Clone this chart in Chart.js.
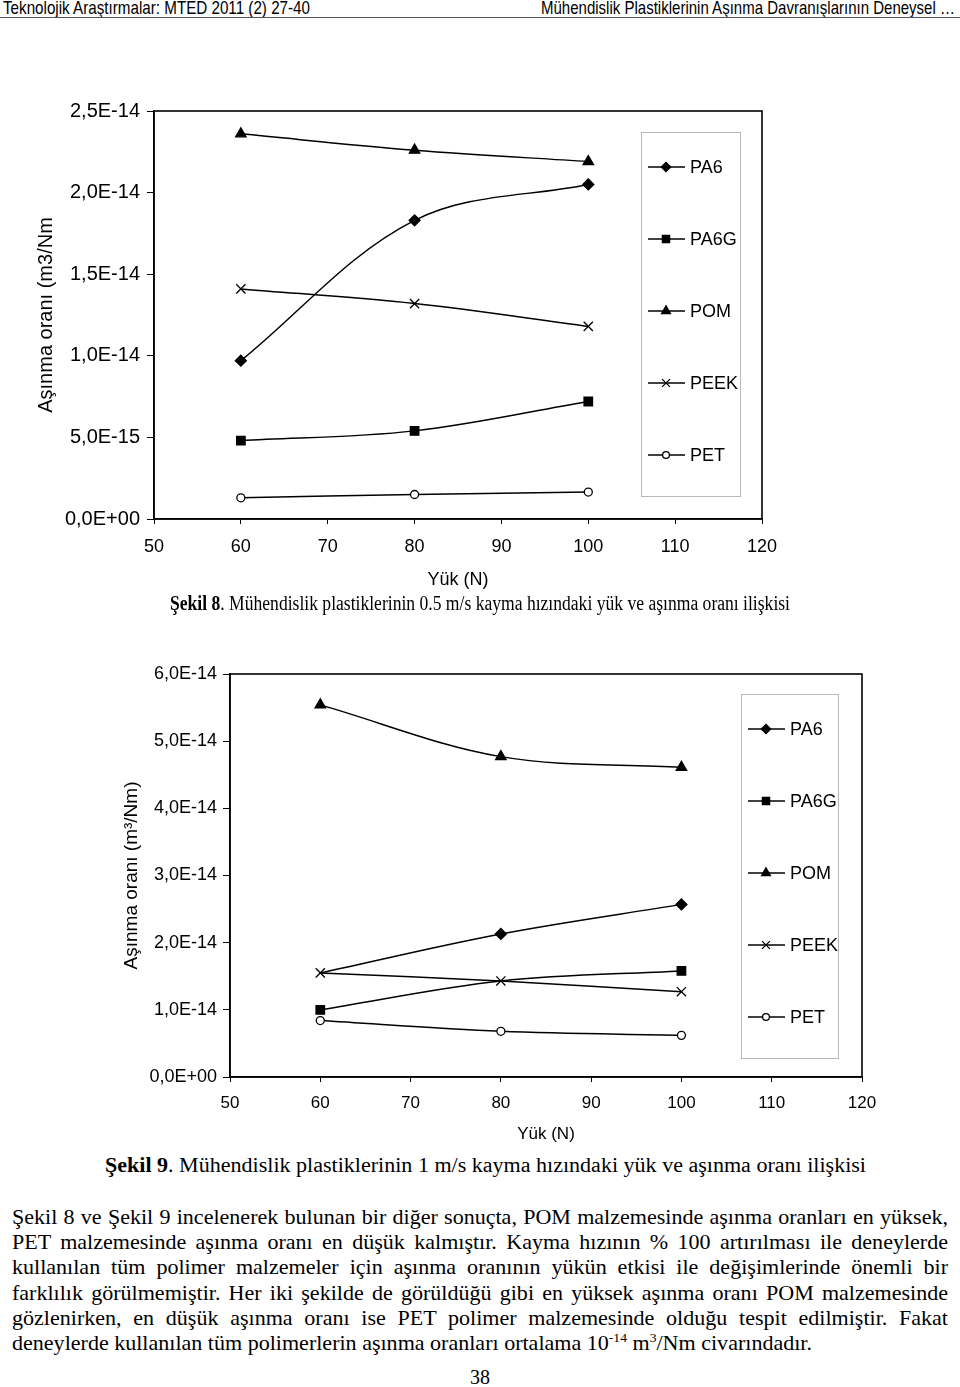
<!DOCTYPE html>
<html lang="tr">
<head>
<meta charset="utf-8">
<title>Şekil 8 ve Şekil 9 - yük ve aşınma oranı</title>
<script src="https://cdn.jsdelivr.net/npm/chart.js@4.4.1/dist/chart.umd.min.js"></script>
<style>
  html, body { margin: 0; padding: 0; background: #fff; }
  body { width: 960px; height: 1387px; position: relative; overflow: hidden; color: #000; }
  .abs { position: absolute; white-space: nowrap; }
  .hdr { font-family: "Liberation Sans Narrow", "Arial Narrow", "Liberation Sans", sans-serif; font-size: 19px; line-height: 19px; top: -2px; }
  #hdrLine { position: absolute; left: 0; top: 17px; width: 960px; height: 1px; background: #555; }
  .serif { font-family: "Liberation Serif", "Times New Roman", serif; font-size: 20px; line-height: 24px; }
  .para { position: absolute; left: 12px; top: 1205px; font-family: "Liberation Serif", "Times New Roman", serif; font-size: 21px; transform-origin: left top; }
  .para div { height: 25.2px; line-height: 25.2px; white-space: nowrap; }
  .para span { display: inline-block; }
  .para sup { font-size: 13px; line-height: 0; vertical-align: 8px; }
  canvas { position: absolute; left: 0; }
</style>
</head>
<body>

<div class="abs hdr fit" data-w="307" style="left:3px;">Teknolojik Araştırmalar: MTED 2011 (2) 27-40</div>
<div class="abs hdr fit" data-w="414" style="left:541px;">Mühendislik Plastiklerinin Aşınma Davranışlarının Deneysel …</div>
<div id="hdrLine"></div>

<canvas id="sekil8" width="800" height="510" style="top:90px;"></canvas>
<div class="abs serif fit" data-w="620" style="left:170px; top:591px;"><b>Şekil 8</b>. Mühendislik plastiklerinin 0.5 m/s kayma hızındaki yük ve aşınma oranı ilişkisi</div>

<canvas id="sekil9" width="900" height="500" style="top:650px;"></canvas>
<div class="abs serif fit" data-w="761" style="left:105px; top:1153px;"><b>Şekil 9</b>. Mühendislik plastiklerinin 1 m/s kayma hızındaki yük ve aşınma oranı ilişkisi</div>

<div class="para" id="para">
  <div><span class="jl">Şekil 8 ve Şekil 9 incelenerek bulunan bir diğer sonuçta, POM malzemesinde aşınma oranları en yüksek,</span></div>
  <div><span class="jl">PET malzemesinde aşınma oranı en düşük kalmıştır. Kayma hızının % 100 artırılması ile deneylerde</span></div>
  <div><span class="jl">kullanılan tüm polimer malzemeler için aşınma oranının yükün etkisi ile değişimlerinde önemli bir</span></div>
  <div><span class="jl">farklılık görülmemiştir. Her iki şekilde de görüldüğü gibi en yüksek aşınma oranı POM malzemesinde</span></div>
  <div><span class="jl">gözlenirken, en düşük aşınma oranı ise PET polimer malzemesinde olduğu tespit edilmiştir. Fakat</span></div>
  <div><span id="lastLine">deneylerde kullanılan tüm polimerlerin aşınma oranları ortalama 10<sup>-14</sup> m<sup>3</sup>/Nm civarındadır.</span></div>
</div>

<div class="abs serif" style="left:0; width:960px; text-align:center; top:1365px;">38</div>

<script>
// yük değerleri (N)
const loads = [60, 80, 100];
const seriesNames = ['PA6', 'PA6G', 'POM', 'PEEK', 'PET'];

// Şekil 8 - 0.5 m/s kayma hızı
const pa6_05  = [0.97e-14, 1.83e-14, 2.05e-14];
const pa6g_05 = [0.48e-14, 0.54e-14, 0.72e-14];
const pom_05  = [2.36e-14, 2.26e-14, 2.19e-14];
const peek_05 = [1.41e-14, 1.32e-14, 1.18e-14];
const pet_05  = [0.13e-14, 0.15e-14, 0.165e-14];

// Şekil 9 - 1 m/s kayma hızı
const pa6_1  = [1.55e-14, 2.13e-14, 2.57e-14];
const pa6g_1 = [1.00e-14, 1.43e-14, 1.58e-14];
const pom_1  = [5.54e-14, 4.77e-14, 4.61e-14];
const peek_1 = [1.55e-14, 1.43e-14, 1.27e-14];
const pet_1  = [0.84e-14, 0.68e-14, 0.62e-14];

// eksen etiketleri
const xTicks = [50, 60, 70, 80, 90, 100, 110, 120];
const yTicks8 = [0, 0.5e-14, 1.0e-14, 1.5e-14, 2.0e-14, 2.5e-14];
const yLabels8 = ['0,0E+00', '5,0E-15', '1,0E-14', '1,5E-14', '2,0E-14', '2,5E-14'];
const yTicks9 = [0, 1e-14, 2e-14, 3e-14, 4e-14, 5e-14, 6e-14];
const yLabels9 = ['0,0E+00', '1,0E-14', '2,0E-14', '3,0E-14', '4,0E-14', '5,0E-14', '6,0E-14'];

const sansFont = "'Liberation Sans', Arial, sans-serif";

// Excel tarzı işaretçiler
const markers = [
    { style: 'rectRot',  radius: 5.5, bg: '#000' },
    { style: 'rect',     radius: 6,   bg: '#000' },
    { style: 'triangle', radius: 6,   bg: '#000' },
    { style: 'crossRot', radius: 6.5, bg: '#000' },
    { style: 'circle',   radius: 4,   bg: '#fff' }
];

// Şekil 9'da X işaretinin altında kalan (görünmeyen) işaretçiler: seri -> nokta sırası
const hiddenMarkers9 = { 0: [0], 1: [1] };

function makeDatasets(series, hidden) {
    hidden = hidden || {};
    return series.map((vals, i) => ({
        label: seriesNames[i],
        data: loads.map((x, j) => ({ x: x, y: vals[j] })),
        borderColor: '#000',
        borderWidth: 1.5,
        pointStyle: markers[i].style,
        legendRadius: markers[i].radius,
        pointRadius: loads.map((x, j) => (hidden[i] || []).includes(j) ? 0 : markers[i].radius),
        pointBackgroundColor: markers[i].bg,
        pointBorderColor: '#000',
        pointBorderWidth: 1.3,
        tension: 0.35,
        fill: false
    }));
}

// çizim alanının çerçevesi
const frame = {
    id: 'frame',
    beforeDatasetsDraw(chart) {
        const { ctx, chartArea: a } = chart;
        ctx.save();
        ctx.strokeStyle = '#000';
        ctx.lineWidth = 1.6;
        ctx.strokeRect(a.left, a.top, a.right - a.left, a.bottom - a.top);
        ctx.restore();
    }
};

// grafik içindeki kutulu lejant
const boxLegend = {
    id: 'boxLegend',
    afterDatasetsDraw(chart, args, opts) {
        const { ctx, chartArea: a } = chart;
        const left = a.right - opts.fromRight;
        const top = a.top + opts.top;
        const bottom = a.bottom - opts.bottom;
        ctx.save();
        ctx.fillStyle = '#fff';
        ctx.fillRect(left, top, opts.width, bottom - top);
        ctx.strokeStyle = '#b8b8b8';
        ctx.lineWidth = 1;
        ctx.strokeRect(left + 0.5, top + 0.5, opts.width, bottom - top);
        chart.data.datasets.forEach((ds, i) => {
            const y = a.top + opts.first + i * opts.step;
            ctx.strokeStyle = '#000';
            ctx.lineWidth = 1.5;
            ctx.beginPath();
            ctx.moveTo(left + 7, y);
            ctx.lineTo(left + 44, y);
            ctx.stroke();
            ctx.fillStyle = ds.pointBackgroundColor;
            ctx.lineWidth = 1.3;
            Chart.helpers.drawPoint(ctx, {
                pointStyle: ds.pointStyle,
                radius: ds.legendRadius * 0.85,
                rotation: 0,
                borderWidth: 1.3
            }, left + 25, y);
            ctx.fillStyle = '#000';
            ctx.font = opts.fontSize + 'px ' + sansFont;
            ctx.textBaseline = 'middle';
            ctx.textAlign = 'left';
            ctx.fillText(ds.label, left + 49, y + 1);
        });
        ctx.restore();
    }
};

function makeOptions(cfg) {
    return {
        responsive: false,
        animation: false,
        events: [],
        layout: { padding: { top: cfg.padTop, right: cfg.padRight, left: 0, bottom: 0 } },
        plugins: {
            legend: { display: false },
            tooltip: { enabled: false },
            boxLegend: cfg.legend
        },
        scales: {
            x: {
                type: 'linear',
                min: 50,
                max: 120,
                afterBuildTicks: s => { s.ticks = xTicks.map(v => ({ value: v })); },
                afterFit: s => { s.height = cfg.xHeight; },
                ticks: { color: '#000', font: { family: sansFont, size: cfg.xTickSize }, padding: cfg.xTickPad, maxRotation: 0, autoSkip: false },
                grid: { display: true, drawOnChartArea: false, drawTicks: true, tickLength: 5, color: '#000', lineWidth: 1 },
                border: { display: true, color: '#000', width: 1.6 },
                title: { display: true, text: 'Yük (N)', color: '#000', font: { family: sansFont, size: cfg.xTitleSize }, padding: { top: 0, bottom: cfg.xTitlePad } }
            },
            y: {
                type: 'linear',
                min: 0,
                max: cfg.yTicks[cfg.yTicks.length - 1],
                afterBuildTicks: s => { s.ticks = cfg.yTicks.map(v => ({ value: v })); },
                afterFit: s => { s.width = cfg.yWidth; },
                ticks: { color: '#000', font: { family: sansFont, size: cfg.yTickSize }, padding: cfg.yTickPad,
                         callback: (v, i) => cfg.yLabels[i] },
                grid: { display: true, drawOnChartArea: false, drawTicks: true, tickLength: 7, color: '#000', lineWidth: 1 },
                border: { display: true, color: '#000', width: 1.6 },
                title: { display: true, text: cfg.yTitle, color: '#000', font: { family: sansFont, size: cfg.yTitleSize }, padding: { top: cfg.yTitlePad, bottom: 0 } }
            }
        }
    };
}

new Chart(document.getElementById('sekil8'), {
    type: 'line',
    data: { datasets: makeDatasets([pa6_05, pa6g_05, pom_05, peek_05, pet_05]) },
    options: makeOptions({
        padTop: 21, padRight: 38, xHeight: 81, yWidth: 154,
        xTickSize: 18, xTickPad: 12, xTitleSize: 18, xTitlePad: 9,
        yTicks: yTicks8, yLabels: yLabels8, yTickSize: 20, yTickPad: 7,
        yTitle: 'Aşınma oranı (m3/Nm', yTitleSize: 20, yTitlePad: 34,
        legend: { fromRight: 121, width: 99, top: 21, bottom: 23, first: 56, step: 72, fontSize: 18 }
    }),
    plugins: [frame, boxLegend]
});

new Chart(document.getElementById('sekil9'), {
    type: 'line',
    data: { datasets: makeDatasets([pa6_1, pa6g_1, pom_1, peek_1, pet_1], hiddenMarkers9) },
    options: makeOptions({
        padTop: 24, padRight: 38, xHeight: 73, yWidth: 230,
        xTickSize: 17, xTickPad: 11, xTitleSize: 17, xTitlePad: 5,
        yTicks: yTicks9, yLabels: yLabels9, yTickSize: 18, yTickPad: 6,
        yTitle: 'Aşınma oranı (m³/Nm)', yTitleSize: 19, yTitlePad: 120,
        legend: { fromRight: 121, width: 97, top: 20, bottom: 19, first: 55, step: 72, fontSize: 18 }
    }),
    plugins: [frame, boxLegend]
});

// taranmış sayfadaki dar yazıya uydur
document.querySelectorAll('.fit').forEach(el => {
    const w = el.getBoundingClientRect().width;
    el.style.transformOrigin = 'left top';
    el.style.transform = 'scaleX(' + (Number(el.dataset.w) / w) + ')';
});

// paragraf: son satır ~800px genişlikte, diğerleri iki yana yaslı (936px)
const para = document.getElementById('para');
const k = 800 / document.getElementById('lastLine').getBoundingClientRect().width;
para.style.transform = 'scaleX(' + k + ')';
document.querySelectorAll('.jl').forEach(el => {
    const w = el.getBoundingClientRect().width / k;
    const spaces = (el.textContent.match(/ /g) || []).length;
    el.style.wordSpacing = ((936 / k - w) / spaces) + 'px';
});
</script>
</body>
</html>
